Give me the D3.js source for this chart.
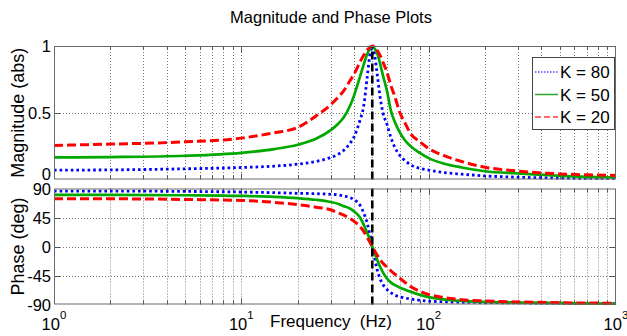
<!DOCTYPE html>
<html>
<head>
<meta charset="utf-8">
<script src="https://cdn.jsdelivr.net/npm/d3@7"></script>
<style>
  body { margin: 0; background: #fff; }
  svg { display: block; }
  text { font-family: "Liberation Sans", Arial, Helvetica, sans-serif; fill: #000; }
</style>
</head>
<body>
<svg id="chart" width="627" height="336"></svg>
<script>
// values
const freqs = [1, 2, 5, 10, 15, 20, 25, 30, 33, 35, 38, 40, 43, 45, 47, 48.5, 50, 51.5, 53, 55, 57, 60, 63, 66, 70, 75, 80, 90, 100, 120, 150, 200, 300, 500, 700, 1000];

const magK80 = [0.07, 0.072, 0.08, 0.09, 0.1, 0.115, 0.135, 0.165, 0.19, 0.215, 0.27, 0.32, 0.445, 0.55, 0.77, 0.93, 1.0, 0.93, 0.8, 0.62, 0.5, 0.41, 0.31, 0.24, 0.182, 0.14, 0.11, 0.083, 0.07, 0.052, 0.04, 0.027, 0.017, 0.011, 0.009, 0.008];
const magK50 = [0.165, 0.168, 0.178, 0.2, 0.228, 0.26, 0.305, 0.37, 0.42, 0.46, 0.55, 0.63, 0.77, 0.86, 0.94, 0.98, 1.0, 0.98, 0.95, 0.87, 0.78, 0.66, 0.51, 0.43, 0.355, 0.29, 0.25, 0.197, 0.16, 0.12, 0.09, 0.062, 0.045, 0.027, 0.02, 0.015];
const magK20 = [0.255, 0.265, 0.282, 0.31, 0.35, 0.39, 0.475, 0.56, 0.62, 0.66, 0.74, 0.79, 0.88, 0.93, 0.97, 0.99, 1.0, 0.99, 0.97, 0.93, 0.88, 0.8, 0.7, 0.62, 0.505, 0.42, 0.345, 0.282, 0.232, 0.18, 0.135, 0.092, 0.063, 0.042, 0.035, 0.03];

const phaseK80 = [86, 86, 85.5, 84.5, 83.5, 82.5, 82, 81, 80, 78.5, 76, 72.5, 64, 52, 36, 19, 0, -19, -35, -50, -59, -67, -72, -75.5, -78, -80, -81.5, -83.5, -84.8, -85.8, -86.5, -87, -87.5, -88, -88.3, -88.5];
const phaseK50 = [80, 80, 79.5, 78.5, 77, 75, 72.5, 69, 66, 63, 59, 54.5, 45, 34, 21, 11, 0, -10.5, -20, -31, -40, -50, -56, -60, -63.5, -67, -70, -75, -78.5, -82, -84.5, -86, -87, -88, -88.3, -88.5];
const phaseK20 = [74, 74, 73, 71.5, 68.5, 65, 61, 57, 52, 49, 43.5, 39, 31, 23.5, 14, 7, 0, -7, -13, -20, -26, -32, -38, -43, -49, -56, -62, -69.5, -74.5, -79, -82.5, -84.5, -86, -87.3, -87.7, -88];

const legendLabels = ["K = 80", "K = 50", "K = 20"];
const magTicks = [0, 0.5, 1];
const magTickLabels = ["0", "0.5", "1"];
const phaseTicks = [-90, -45, 0, 45, 90];
const phaseTickLabels = ["-90", "-45", "0", "45", "90"];
const decades = [1, 10, 100, 1000];
const decadeExps = ["0", "1", "2", "3"];
const resonance = 50;

const series = [
  { label: legendLabels[0], color: "#0000ff", width: 2.8, dash: "2.6,3", mag: magK80, phase: phaseK80, legColor: "#4d4dff", legDash: "1.5,1.5" },
  { label: legendLabels[1], color: "#00a800", width: 2.7, dash: null, mag: magK50, phase: phaseK50, legColor: "#2fa82f", legDash: null },
  { label: legendLabels[2], color: "#ff0000", width: 3, dash: "9,4", mag: magK20, phase: phaseK20, legColor: "#ff3c3c", legDash: "6,3" }
];

const svg = d3.select("#chart");
svg.append("rect").attr("width", 627).attr("height", 336).attr("fill", "#fff");

const x = d3.scaleLog().domain([1, 1000]).range([54, 616]);
const yMag = d3.scaleLinear().domain([0, 1]).range([179.5, 46]);
const yPh = d3.scaleLinear().domain([-90, 90]).range([304.5, 188.5]);

const px = (v) => Math.round(v) + 0.5;

function panel(y, ticks, tickLabels, key, ylabel, labelShift) {
  const g = svg.append("g");
  const [y0, y1] = y.range();
  const [xa, xb] = x.range();

  // dotted grid
  const xt = x.ticks().filter((v) => v > 1 && v < 1000);
  g.selectAll("line.gx").data(xt).join("line")
    .attr("x1", (d) => px(x(d))).attr("x2", (d) => px(x(d)))
    .attr("y1", y1).attr("y2", y0)
    .attr("stroke", "#7a7a7a").attr("stroke-dasharray", "1,2");
  g.selectAll("line.gy").data(ticks.slice(1, -1)).join("line")
    .attr("x1", xa).attr("x2", xb)
    .attr("y1", (d) => px(y(d))).attr("y2", (d) => px(y(d)))
    .attr("stroke", "#7a7a7a").attr("stroke-dasharray", "1,2");

  // inside ticks on all four sides
  const tickLen = (d) => (decades.includes(d) ? 6 : 4);
  [y0, y1].forEach((yy, k) => {
    g.selectAll(null).data(xt).join("line")
      .attr("x1", (d) => px(x(d))).attr("x2", (d) => px(x(d)))
      .attr("y1", yy).attr("y2", (d) => (k === 0 ? yy - tickLen(d) : yy + tickLen(d)))
      .attr("stroke", "#555");
  });
  [xa, xb].forEach((xx, k) => {
    g.selectAll(null).data(ticks.slice(1, -1)).join("line")
      .attr("x1", xx).attr("x2", k === 0 ? xx + 6 : xx - 6)
      .attr("y1", (d) => px(y(d))).attr("y2", (d) => px(y(d)))
      .attr("stroke", "#555");
  });

  // curves
  const line = d3.line()
    .x((d, i) => x(freqs[i]))
    .y((d) => y(d))
    .curve(d3.curveMonotoneX);
  g.selectAll("path.curve").data(series).join("path")
    .attr("d", (s) => line(s[key]))
    .attr("fill", "none")
    .attr("stroke", (s) => s.color)
    .attr("stroke-width", (s) => s.width)
    .attr("stroke-dasharray", (s) => s.dash);

  // resonance marker
  g.append("line")
    .attr("x1", x(resonance)).attr("x2", x(resonance))
    .attr("y1", y0).attr("y2", y1)
    .attr("stroke", "#000").attr("stroke-width", 2.6)
    .attr("stroke-dasharray", "8,4");

  // box
  g.append("rect")
    .attr("x", xa + 0.5).attr("y", y1 + 0.5)
    .attr("width", xb - xa - 1).attr("height", y0 - y1 - 1)
    .attr("fill", "none").attr("stroke", "#6a6a6a");

  // y tick labels
  g.selectAll("text.yt").data(ticks).join("text")
    .attr("x", 51).attr("y", (d, i) => y(d) + 6 + (labelShift[i] || 0))
    .attr("text-anchor", "end")
    .style("font-size", "16.5px")
    .text((d, i) => tickLabels[i]);

  g.append("text")
    .attr("transform", `translate(23.5,${(y0 + y1) / 2}) rotate(-90)`)
    .attr("text-anchor", "middle")
    .style("font-size", "18px")
    .text(ylabel);
  return g;
}

const magPanel = panel(yMag, magTicks, magTickLabels, "mag", "Magnitude (abs)", [-5.5]);
panel(yPh, phaseTicks, phaseTickLabels, "phase", "Phase (deg)", []);

// legend
const leg = magPanel.append("g");
leg.append("rect")
  .attr("x", 532.5).attr("y", 57.5).attr("width", 82).attr("height", 72)
  .attr("fill", "#fff").attr("stroke", "#444");
series.forEach((s, i) => {
  const ly = 72 + i * 22.5;
  leg.append("path")
    .attr("d", `M535,${ly}H558`)
    .attr("fill", "none")
    .style("stroke", s.legColor).style("stroke-width", "1.5px")
    .style("stroke-dasharray", s.legDash || "none");
  leg.append("text")
    .attr("x", 560).attr("y", ly + 6)
    .style("font-size", "17px")
    .text(s.label);
});

// x tick labels (powers of ten)
const xl = svg.selectAll("text.xt").data(decades).join("text")
  .attr("x", (d) => x(d)).attr("y", 330)
  .attr("text-anchor", "middle")
  .style("font-size", "16.5px");
xl.append("tspan").text("10");
xl.append("tspan").attr("dy", -11.5).style("font-size", "11.5px").text((d, i) => decadeExps[i]);

svg.append("text")
  .attr("x", 331).attr("y", 326.5)
  .attr("text-anchor", "middle")
  .style("white-space", "pre")
  .style("font-size", "17px")
  .text("Frequency  (Hz)");

svg.append("text")
  .attr("x", 331).attr("y", 22.5)
  .attr("text-anchor", "middle")
  .style("font-size", "16.5px")
  .text("Magnitude and Phase Plots");
</script>
</body>
</html>
